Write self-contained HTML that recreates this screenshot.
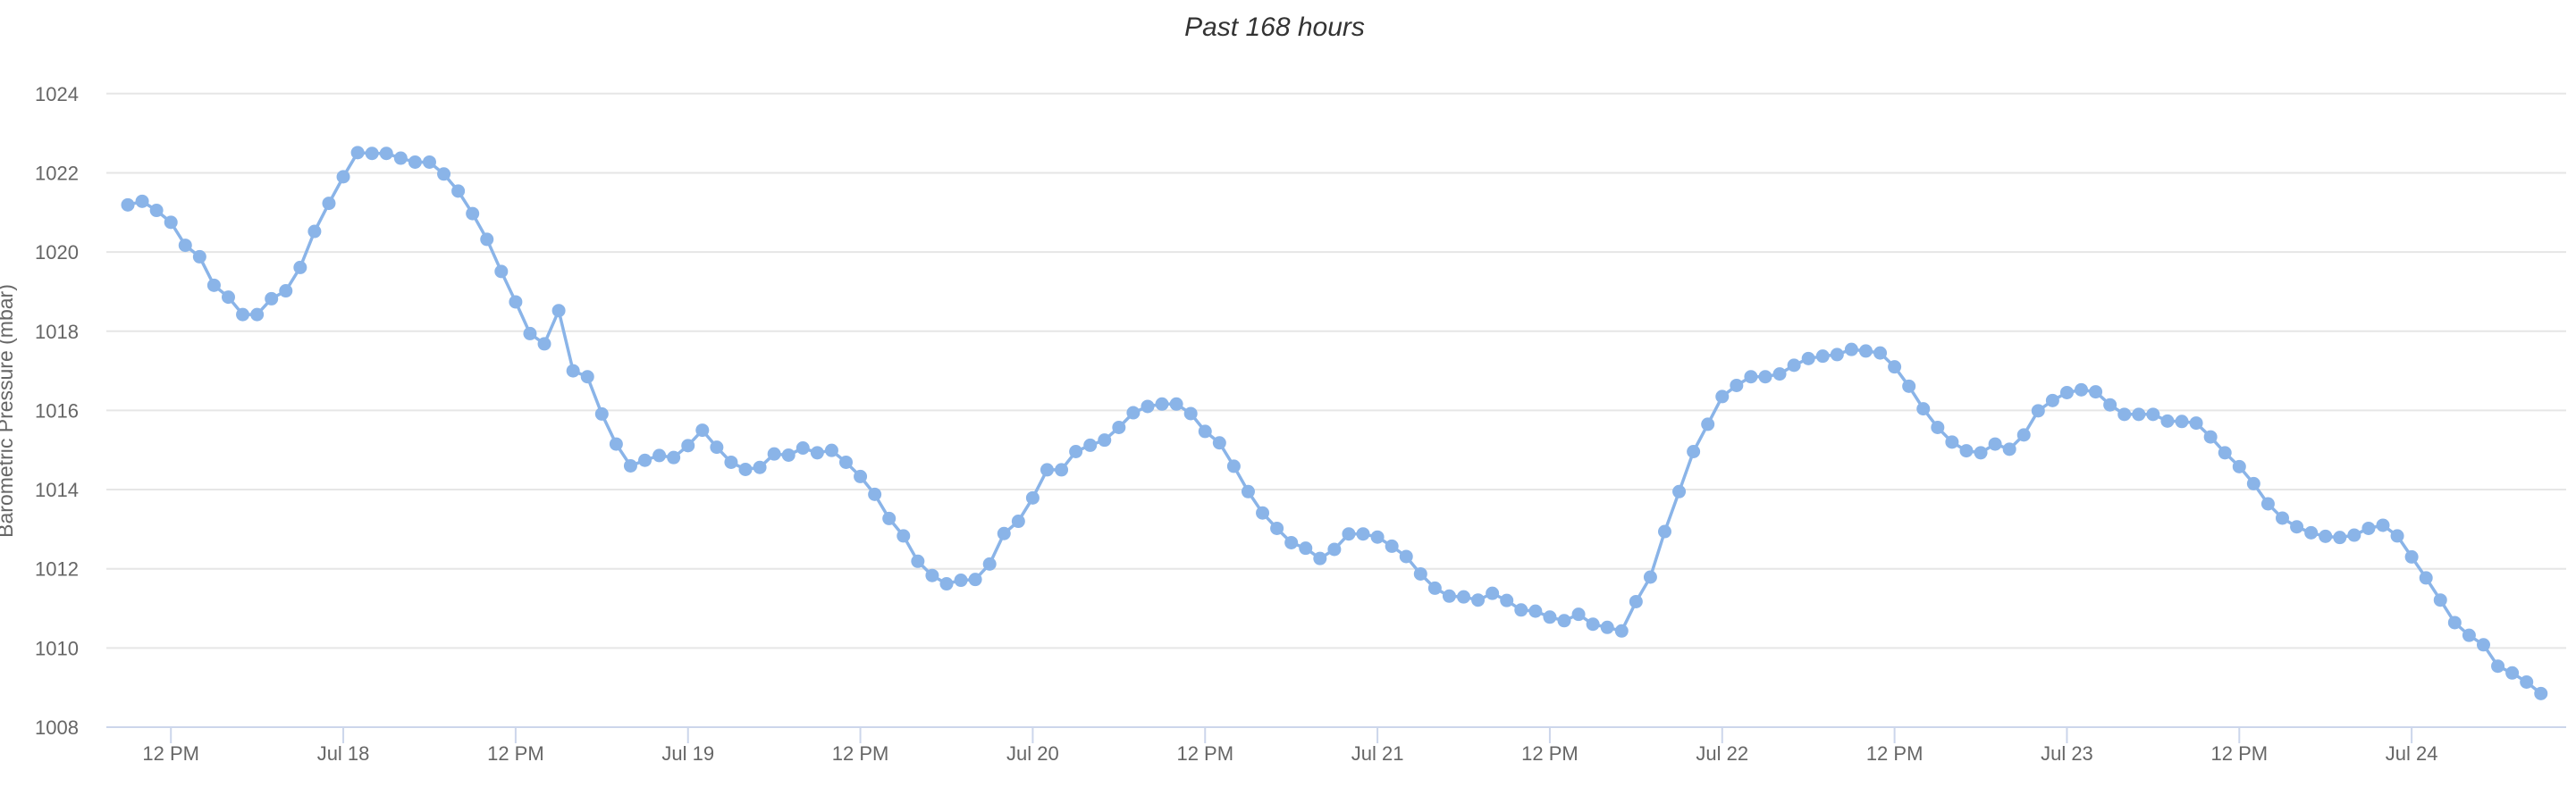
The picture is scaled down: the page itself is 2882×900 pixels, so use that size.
<!DOCTYPE html>
<html><head><meta charset="utf-8"><style>
html,body{margin:0;padding:0;background:#fff;width:2882px;height:900px;overflow:hidden}
svg{display:block;font-family:"Liberation Sans",sans-serif}
</style></head><body>
<svg id="chart" width="2882" height="900" viewBox="0 0 2882 900" xmlns="http://www.w3.org/2000/svg">
<text x="1426" y="40" text-anchor="middle" font-size="30" font-style="italic" fill="#333">Past 168 hours</text>
<text transform="translate(14,460) rotate(-90)" text-anchor="middle" font-size="23" fill="#666">Barometric Pressure (mbar)</text>
<g id="grid"></g><g id="xaxis"></g><g id="series"></g>
</svg>
<script>
const yTicks = [1008,1010,1012,1014,1016,1018,1020,1022,1024];
const xTickHours = [12,24,36,48,60,72,84,96,108,120,132,144,156,168];
const xTickLabels = ["12 PM","Jul 18","12 PM","Jul 19","12 PM","Jul 20","12 PM","Jul 21","12 PM","Jul 22","12 PM","Jul 23","12 PM","Jul 24"];
const startHour = 9;
const pressure = [
1021.19,1021.28,1021.05,1020.75,1020.17,1019.88,1019.16,1018.86,1018.42,1018.42,
1018.82,1019.02,1019.61,1020.52,1021.23,1021.90,1022.51,1022.49,1022.49,1022.37,
1022.27,1022.27,1021.97,1021.54,1020.97,1020.32,1019.51,1018.74,1017.94,1017.68,
1018.52,1017.00,1016.85,1015.91,1015.15,1014.60,1014.74,1014.86,1014.81,1015.11,
1015.50,1015.07,1014.69,1014.51,1014.56,1014.90,1014.87,1015.05,1014.93,1014.99,
1014.69,1014.33,1013.88,1013.27,
1012.83,1012.19,1011.83,1011.62,1011.71,1011.73,1012.12,1012.89,1013.20,1013.79,
1014.50,1014.50,1014.96,1015.12,1015.25,1015.57,1015.94,1016.10,1016.16,1016.16,
1015.92,1015.47,1015.18,1014.59,1013.95,1013.41,1013.02,1012.66,1012.52,1012.26,
1012.49,1012.88,1012.88,1012.80,1012.57,1012.31,1011.87,1011.51,1011.31,1011.29,
1011.21,1011.38,1011.20,1010.96,1010.93,1010.78,1010.69,1010.85,1010.60,1010.52,
1010.43,1011.17,1011.79,1012.94,1013.95,1014.96,1015.65,1016.35,1016.63,
1016.85,1016.85,1016.92,1017.14,1017.31,1017.37,1017.41,1017.54,1017.50,1017.45,
1017.10,1016.61,1016.04,1015.57,1015.20,1014.98,1014.93,1015.15,1015.02,1015.38,
1015.99,1016.25,1016.45,1016.52,1016.47,1016.14,1015.90,1015.90,1015.90,1015.73,
1015.72,1015.68,1015.33,1014.93,1014.58,1014.15,1013.64,1013.28,1013.06,1012.91,
1012.82,1012.79,1012.85,1013.02,1013.10,1012.83,1012.30,1011.77,1011.21,1010.64,
1010.32,1010.08,1009.54,1009.37,1009.14,1008.85];

const NS="http://www.w3.org/2000/svg";
const L=119,R=2871,T=104.8,B=814;
function y(v){return B-(v-1008)/(1024-1008)*(B-T);}
function x(h){return 143+(h-startHour)*16.07;}
function mk(tag,attrs,parent){const e=document.createElementNS(NS,tag);for(const k in attrs)e.setAttribute(k,attrs[k]);parent.appendChild(e);return e;}
const grid=document.getElementById('grid'),xa=document.getElementById('xaxis'),ser=document.getElementById('series');
yTicks.forEach(v=>{
  if(v!==1008){const g=mk('line',{x1:L,x2:R,y1:y(v),y2:y(v),stroke:'#e6e6e6','stroke-width':2},grid);
  
  }
  const t=mk('text',{x:88,y:y(v)+8,'text-anchor':'end','font-size':22,fill:'#666'},grid);
  t.textContent=v;
  
  
});
const ax=mk('line',{x1:L,x2:R,y1:B,y2:B,stroke:'#ccd6eb','stroke-width':2},xa);


xTickHours.forEach((h,i)=>{
  const tk=mk('line',{x1:x(h),x2:x(h),y1:B,y2:B+18,stroke:'#ccd6eb','stroke-width':2},xa);
  
  
  const t=mk('text',{x:x(h),y:851,'text-anchor':'middle','font-size':22,fill:'#666'},xa);
  t.textContent=xTickLabels[i];
  
  
});
const pts=pressure.map((v,i)=>x(startHour+i).toFixed(1)+','+y(v).toFixed(1)).join(' ');
const pl=mk('polyline',{points:pts,fill:'none',stroke:'#8ab4e8','stroke-width':3.5,'stroke-linejoin':'round'},ser);


pressure.forEach((v,i)=>{
  const c=mk('circle',{cx:x(startHour+i),cy:y(v),r:7.5,fill:'#8ab4e8'},ser);
  
  
});
</script>
</body></html>
